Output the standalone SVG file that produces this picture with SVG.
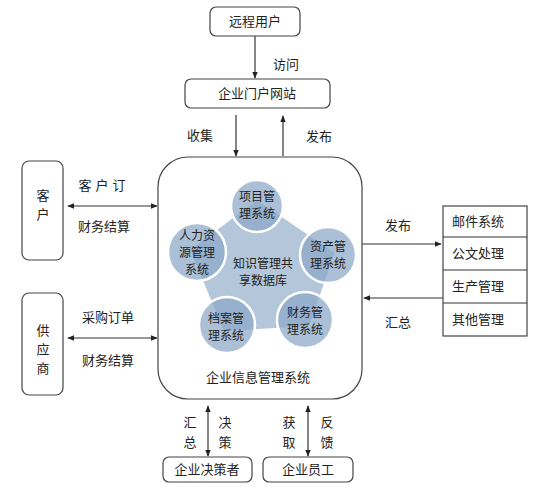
<svg xmlns="http://www.w3.org/2000/svg" width="554" height="492" viewBox="0 0 554 492">
<style>
text{font-family:"Noto Sans CJK SC","Noto Sans CJK JP",sans-serif;font-size:13px;fill:#222;text-anchor:middle}
.s{font-size:12px}
.box{fill:#fff;stroke:#444;stroke-width:1.2}
.ln{stroke:#333;stroke-width:1.2;fill:none}
.cir{fill:#8aa8c8;fill-opacity:0.72;stroke:#fff;stroke-width:2.5}
.l{text-anchor:start}
</style>
<defs>
<marker id="ah" viewBox="0 0 10 10" refX="9" refY="5" markerWidth="7" markerHeight="7" orient="auto-start-reverse" markerUnits="userSpaceOnUse">
<path d="M0,1 L10,5 L0,9 z" fill="#222"/>
</marker>
</defs>
<rect width="554" height="492" fill="#fff"/>
<g id="connectors">
<line class="ln" x1="255" y1="36" x2="255" y2="78" marker-end="url(#ah)"/>
<line class="ln" x1="236" y1="115" x2="236" y2="156" marker-end="url(#ah)"/>
<line class="ln" x1="283" y1="156" x2="283" y2="116" marker-end="url(#ah)"/>
<line class="ln" x1="68" y1="206" x2="157" y2="206" marker-start="url(#ah)" marker-end="url(#ah)"/>
<line class="ln" x1="68" y1="338" x2="157" y2="338" marker-start="url(#ah)" marker-end="url(#ah)"/>
<line class="ln" x1="362" y1="244" x2="441" y2="244" marker-end="url(#ah)"/>
<line class="ln" x1="443" y1="298" x2="364" y2="298" marker-end="url(#ah)"/>
<line class="ln" x1="208" y1="406" x2="208" y2="456" marker-start="url(#ah)" marker-end="url(#ah)"/>
<line class="ln" x1="308" y1="406" x2="308" y2="456" marker-start="url(#ah)" marker-end="url(#ah)"/>
<text x="286" y="69">访问</text>
<text x="200" y="140">收集</text>
<text x="319" y="141">发布</text>
<text x="104" y="190" letter-spacing="4">客户订</text>
<text x="104" y="231">财务结算</text>
<text x="108" y="322">采购订单</text>
<text x="108" y="365">财务结算</text>
<text x="398" y="230">发布</text>
<text x="398" y="327">汇总</text>
<text x="190" y="427">汇</text>
<text x="190" y="447">总</text>
<text x="225" y="427">决</text>
<text x="225" y="447">策</text>
<text x="289" y="427">获</text>
<text x="289" y="447">取</text>
<text x="327" y="427">反</text>
<text x="327" y="447">馈</text>
</g>
<g id="remote-user">
<rect class="box" x="210" y="7" width="90" height="29" rx="6"/>
<text x="255" y="26">远程用户</text>
</g>
<g id="portal">
<rect class="box" x="185" y="79" width="145" height="29" rx="6"/>
<text x="257" y="98">企业门户网站</text>
</g>
<g id="customer">
<rect class="box" x="22" y="161" width="41" height="99" rx="7"/>
<text x="43" y="200">客</text>
<text x="43" y="219">户</text>
</g>
<g id="supplier">
<rect class="box" x="22" y="293" width="41" height="102" rx="7"/>
<text x="43" y="335">供</text>
<text x="43" y="354">应</text>
<text x="43" y="373">商</text>
</g>
<g id="eims">
<rect class="box" x="158" y="157" width="204" height="242" rx="30"/>
<polygon points="257,204 331,254 307,323 226,328 194,251" fill="#b3c6da" stroke="#b3c6da" stroke-width="6" stroke-linejoin="round"/>
<text class="s" x="263" y="268">知识管理共</text>
<text class="s" x="263" y="285">享数据库</text>
<text x="258" y="382">企业信息管理系统</text>
</g>
<g id="project">
<circle class="cir" cx="257" cy="206" r="26"/>
<text class="s" x="257" y="201">项目管</text>
<text class="s" x="257" y="218">理系统</text>
</g>
<g id="asset">
<circle class="cir" cx="328" cy="255" r="28"/>
<text class="s" x="328" y="251">资产管</text>
<text class="s" x="328" y="268">理系统</text>
</g>
<g id="finance">
<circle class="cir" cx="305" cy="320" r="28"/>
<text class="s" x="305" y="317">财务管</text>
<text class="s" x="305" y="334">理系统</text>
</g>
<g id="archive">
<circle class="cir" cx="227" cy="325" r="28"/>
<text class="s" x="226" y="323">档案管</text>
<text class="s" x="226" y="340">理系统</text>
</g>
<g id="hr">
<circle class="cir" cx="197" cy="252" r="29"/>
<text class="s" x="197" y="240">人力资</text>
<text class="s" x="197" y="257">源管理</text>
<text class="s" x="197" y="274">系统</text>
</g>
<g id="other-systems">
<rect class="box" x="443" y="206" width="84" height="130" rx="0"/>
<line class="ln" x1="443" y1="237" x2="527" y2="237"/>
<line class="ln" x1="443" y1="270" x2="527" y2="270"/>
<line class="ln" x1="443" y1="303" x2="527" y2="303"/>
<text class="l" x="452" y="226">邮件系统</text>
<text class="l" x="452" y="258">公文处理</text>
<text class="l" x="452" y="291">生产管理</text>
<text class="l" x="452" y="324">其他管理</text>
</g>
<g id="decision-maker">
<rect class="box" x="163" y="457" width="89" height="25" rx="6"/>
<text x="207" y="474">企业决策者</text>
</g>
<g id="employee">
<rect class="box" x="263" y="457" width="90" height="25" rx="6"/>
<text x="308" y="474">企业员工</text>
</g>
</svg>
